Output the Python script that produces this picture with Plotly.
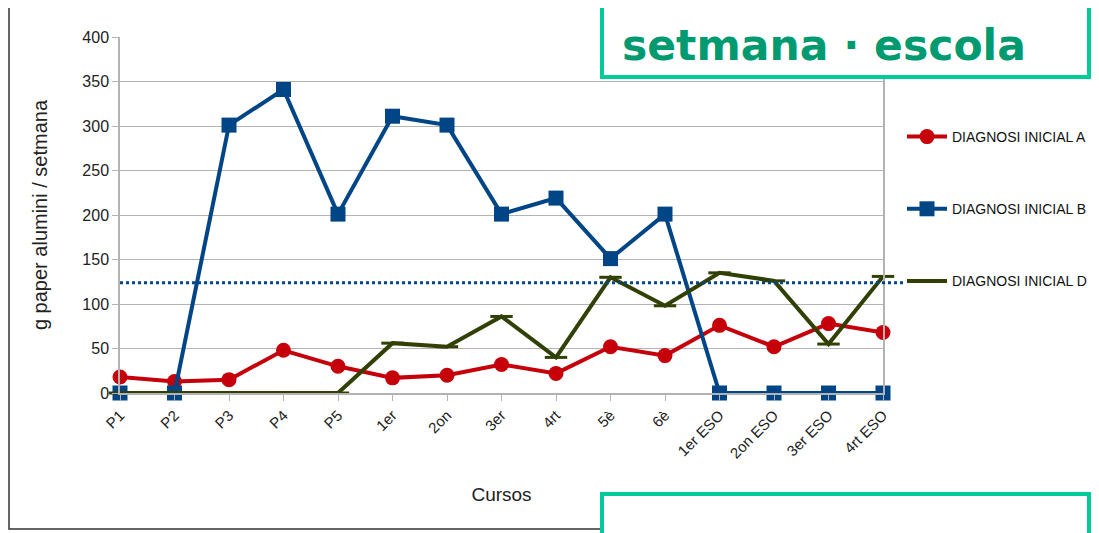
import plotly.graph_objects as go

cursos = ["P1", "P2", "P3", "P4", "P5", "1er", "2on", "3er", "4rt", "5è", "6è",
          "1er ESO", "2on ESO", "3er ESO", "4rt ESO"]
diag_a = [18, 13, 15, 48, 30, 17, 20, 32, 22, 52, 42, 76, 52, 78, 68]
diag_b = [0, 0, 301, 341, 201, 311, 301, 201, 219, 151, 201, 0, 0, 0, 0]
diag_d = [0, 0, 0, 0, 0, 56, 52, 86, 40, 130, 98, 135, 126, 55, 131]
referencia = 124

series_names = ["DIAGNOSI INICIAL A", "DIAGNOSI INICIAL B", "DIAGNOSI INICIAL D"]
RED, BLUE, GREEN = "#c5000b", "#004586", "#314004"

# plot area in screen pixels (page has an 8px body margin)
PX0, PX1, PY0, PY1 = 120, 883, 37, 393
OFF = 8


def px(x):
    return (x - PX0) / (PX1 - PX0)


def py(y):
    return (PY1 - y) / (PY1 - PY0)


fig = go.Figure()
fig.add_trace(go.Scatter(x=cursos, y=diag_a, name=series_names[0], mode="lines+markers",
                         line=dict(color=RED, width=4),
                         marker=dict(symbol="circle", size=15, color=RED),
                         legendgroup="a", cliponaxis=False))
fig.add_trace(go.Scatter(x=cursos, y=diag_b, name=series_names[1], mode="lines+markers",
                         line=dict(color=BLUE, width=4),
                         marker=dict(symbol="square", size=15, color=BLUE),
                         legendgroup="b", cliponaxis=False))
fig.add_trace(go.Scatter(x=cursos, y=diag_d, name=series_names[2], mode="lines+markers",
                         line=dict(color=GREEN, width=4),
                         marker=dict(symbol="line-ew-open", size=16,
                                     line=dict(color=GREEN, width=3)),
                         legendgroup="d", cliponaxis=False))

# dotted reference line
fig.add_shape(type="line", xref="paper", yref="y", x0=0, x1=px(905),
              y0=referencia, y1=referencia,
              line=dict(color=BLUE, width=3, dash="dot"), layer="above")

# outer chart border
fig.add_shape(type="rect", xref="paper", yref="paper",
              x0=px(9), x1=px(1110), y0=py(529), y1=py(5),
              line=dict(color="#333333", width=1.5), layer="below")

# title box
fig.add_shape(type="rect", xref="paper", yref="paper",
              x0=px(602), x1=px(1089), y0=py(77), y1=py(-10),
              line=dict(color="#00cc99", width=4), fillcolor="white", layer="above")
fig.add_annotation(text="<b>setmana · escola</b>", xref="paper", yref="paper",
                   x=px(620), y=py(45), xanchor="left", yanchor="middle",
                   showarrow=False,
                   font=dict(family="DejaVu Sans", size=42.5, color="#009a70"))
# bottom box
fig.add_shape(type="rect", xref="paper", yref="paper",
              x0=px(602), x1=px(1089), y0=py(545), y1=py(494),
              line=dict(color="#00cc99", width=4), fillcolor="white", layer="above")

fig.update_layout(
    width=1099, height=533,
    margin=dict(l=PX0 - OFF, r=1099 - (PX1 - OFF), t=PY0 - OFF, b=533 - (PY1 - OFF),
                autoexpand=False),
    paper_bgcolor="white", plot_bgcolor="white",
    font=dict(family="Liberation Sans", size=15, color="#222222"),
    showlegend=True,
    legend=dict(x=px(902), y=py(121), xanchor="left", yanchor="top",
                bgcolor="rgba(0,0,0,0)", tracegroupgap=51,
                font=dict(family="Liberation Sans", size=14, color="#111111"),
                itemwidth=40),
    xaxis=dict(
        type="category", range=[0, 14], showgrid=False,
        showline=True, linecolor="#b3b3b3", linewidth=1.5,
        ticks="outside", ticklen=6, tickcolor="#b3b3b3", tickangle=-45,
        tickfont=dict(size=15, color="#222222"),
        title=dict(text="Cursos", font=dict(size=19, color="#222222"), standoff=27),
        automargin=False,
    ),
    yaxis=dict(
        range=[0, 400], dtick=50, showgrid=True, gridcolor="#b3b3b3", gridwidth=1,
        zeroline=False, showline=True, linecolor="#b3b3b3", linewidth=1.5, mirror=True,
        ticks="outside", ticklen=6, tickcolor="#b3b3b3",
        tickfont=dict(size=16, color="#222222"),
        title=dict(text="g paper alumini / setmana", font=dict(size=20, color="#222222"),
                   standoff=29),
        automargin=False,
    ),
)

fig.write_html("out.html")
